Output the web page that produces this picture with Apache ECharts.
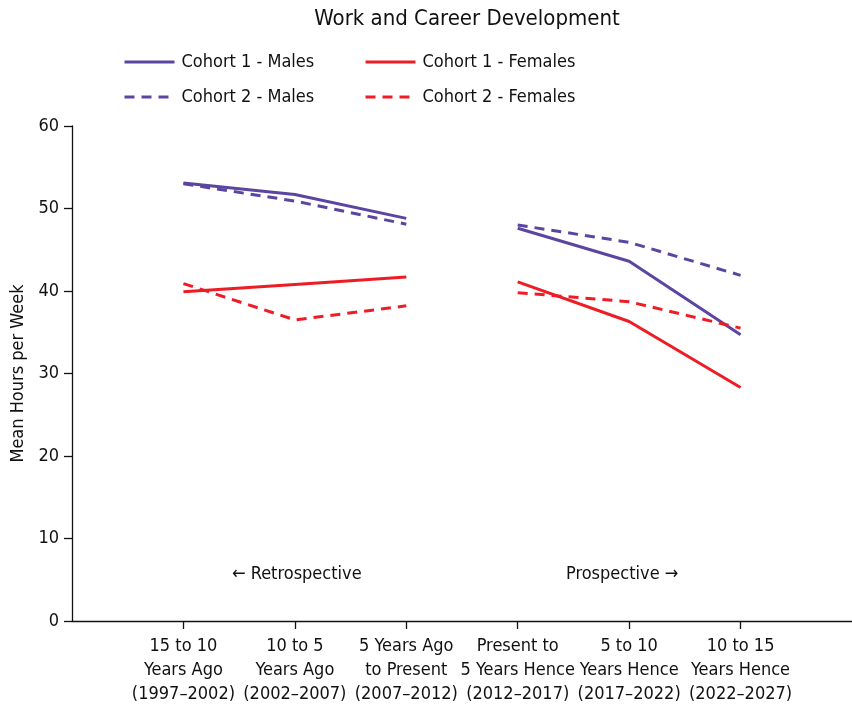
<!DOCTYPE html>
<html>
<head>
<meta charset="utf-8">
<script src="https://cdn.jsdelivr.net/npm/echarts@6/dist/echarts.min.js"></script>
<style>
  html, body { margin: 0; padding: 0; background: #fff; }
  #chart { width: 852px; height: 710px; }
</style>
</head>
<body>
<div id="chart"></div>
<script>
// Period labels along the x axis (positions 1..6)
const periods = [
  '15 to 10\nYears Ago\n(1997\u20132002)',
  '10 to 5\nYears Ago\n(2002\u20132007)',
  '5 Years Ago\nto Present\n(2007\u20132012)',
  'Present to\n5 Years Hence\n(2012\u20132017)',
  '5 to 10\nYears Hence\n(2017\u20132022)',
  '10 to 15\nYears Hence\n(2022\u20132027)'
];

// Mean weekly hours: three retrospective periods, then three prospective
const cohort1Males   = [53.1, 51.7, 48.8, 47.6, 43.6, 34.7];
const cohort2Males   = [53.0, 50.9, 48.1, 48.0, 45.9, 41.9];
const cohort1Females = [39.9, 40.8, 41.7, 41.1, 36.3, 28.3];
const cohort2Females = [40.9, 36.5, 38.2, 39.8, 38.7, 35.5];

const yTicks = [0, 10, 20, 30, 40, 50, 60];

const FONT = "'Liberation Sans Narrow', 'DejaVu Sans Condensed', sans-serif";
const PURPLE = '#5B45A0';
const RED = '#EE1D25';

// Build [x, y] pairs with a break between the retrospective and prospective halves
function toPoints(vals) {
  const pts = [];
  vals.forEach((v, i) => {
    if (i === 3) pts.push([3.5, null]);
    pts.push([i + 1, v]);
  });
  return pts;
}

function lineSeries(name, vals, color, dashed) {
  return {
    name: name,
    type: 'line',
    data: toPoints(vals),
    symbol: 'none',
    connectNulls: false,
    lineStyle: { color: color, width: 3, type: dashed ? [10, 7] : 'solid' },
    itemStyle: { color: color },
    emphasis: { disabled: true },
    animation: false
  };
}

function legendAt(name, left, top) {
  return {
    data: [name],
    left: left,
    top: top,
    itemWidth: 50,
    itemHeight: 14,
    itemGap: 0,
    selectedMode: false,
    itemStyle: { opacity: 0 },
    lineStyle: { width: 3 },
    textStyle: { fontFamily: FONT, fontSize: 18, color: '#111', padding: [0, 0, 0, 2] }
  };
}

const chart = echarts.init(document.getElementById('chart'));
chart.setOption({
  backgroundColor: '#fff',
  animation: false,
  title: {
    text: 'Work and Career Development',
    left: 462,
    textAlign: 'center',
    top: 3,
    textStyle: { fontFamily: FONT, fontSize: 22, fontWeight: 'normal', color: '#111' }
  },
  legend: [
    legendAt('Cohort 1 - Males', 118, 48),
    legendAt('Cohort 1 - Females', 359, 48),
    legendAt('Cohort 2 - Males', 118, 83),
    legendAt('Cohort 2 - Females', 359, 83)
  ],
  grid: { left: 72, right: 0, top: 126, bottom: 89, containLabel: false },
  xAxis: {
    type: 'value',
    min: 0,
    max: 7,
    interval: 1,
    splitLine: { show: false },
    axisLine: { show: true, lineStyle: { color: '#111', width: 1.3 } },
    axisTick: {
      show: true, length: 8, inside: false,
      customValues: [1, 2, 3, 4, 5, 6],
      lineStyle: { color: '#111', width: 1.3 }
    },
    axisLabel: {
      customValues: [1, 2, 3, 4, 5, 6],
      formatter: v => periods[Math.round(v) - 1] || '',
      fontFamily: FONT, fontSize: 18, color: '#111',
      lineHeight: 24, margin: 13
    }
  },
  yAxis: {
    type: 'value',
    min: 0,
    max: 60,
    interval: 10,
    name: 'Mean Hours per Week',
    nameLocation: 'middle',
    nameGap: 45,
    nameRotate: 90,
    nameTextStyle: { fontFamily: FONT, fontSize: 18, color: '#111' },
    splitLine: { show: false },
    axisLine: { show: true, lineStyle: { color: '#111', width: 1.3 } },
    axisTick: { show: true, length: 8, lineStyle: { color: '#111', width: 1.3 } },
    axisLabel: {
      customValues: yTicks,
      fontFamily: FONT, fontSize: 18, color: '#111', margin: 13
    }
  },
  graphic: [
    {
      type: 'text', left: 232, top: 565,
      style: { text: '\u2190 Retrospective', fontFamily: FONT, fontSize: 18, fill: '#111' }
    },
    {
      type: 'text', left: 566, top: 565,
      style: { text: 'Prospective \u2192', fontFamily: FONT, fontSize: 18, fill: '#111' }
    }
  ],
  series: [
    lineSeries('Cohort 1 - Males', cohort1Males, PURPLE, false),
    lineSeries('Cohort 1 - Females', cohort1Females, RED, false),
    lineSeries('Cohort 2 - Males', cohort2Males, PURPLE, true),
    lineSeries('Cohort 2 - Females', cohort2Females, RED, true)
  ]
});
</script>
</body>
</html>
